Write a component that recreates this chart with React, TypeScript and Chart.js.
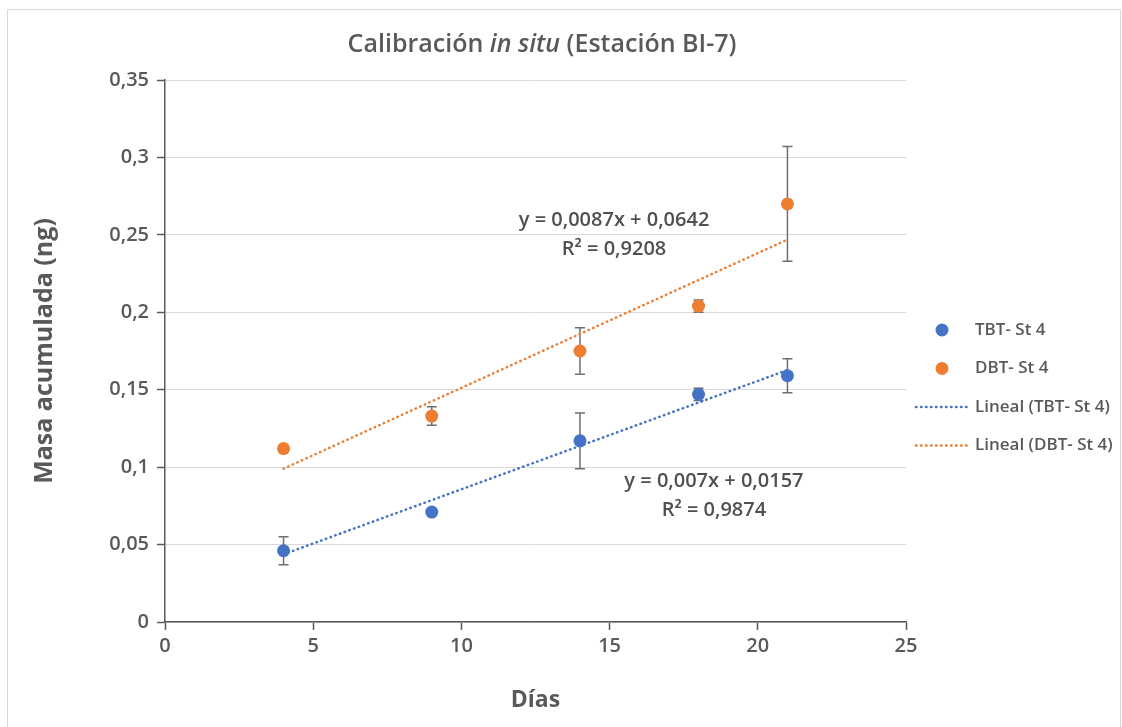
import React, { useEffect, useRef } from 'react';
import { Chart, registerables } from 'chart.js';

Chart.register(...registerables);

// ---- data ----
const days = [4, 9, 14, 18, 21];
const tbtValues = [0.046, 0.071, 0.117, 0.147, 0.159];
const tbtErrors = [0.009, 0.002, 0.018, 0.004, 0.011];
const dbtValues = [0.112, 0.133, 0.175, 0.204, 0.27];
const dbtErrors = [0.002, 0.006, 0.015, 0.004, 0.037];
const trendDays = [4, 21];
const tbtTrend = [0.0437, 0.1627];
const dbtTrend = [0.099, 0.2469];
const yTickValues = [0, 0.05, 0.1, 0.15, 0.2, 0.25, 0.3, 0.35];
const xTickValues = [0, 5, 10, 15, 20, 25];
const seriesLabels = ['TBT- St 4', 'DBT- St 4', 'Lineal (TBT- St 4)', 'Lineal (DBT- St 4)'];
const tbtEquation = ['y = 0,007x + 0,0157', 'R² = 0,9874'];
const dbtEquation = ['y = 0,0087x + 0,0642', 'R² = 0,9208'];
const titleParts = ['Calibración ', 'in situ', ' (Estación BI-7)'];
const titleItalic = [false, true, false];
const xTitle = 'Días';
const yTitle = 'Masa acumulada (ng)';

const FONT = '"Open Sans", sans-serif';
const TEXT = '#595959';
const BLUE = '#4472C4';
const ORANGE = '#ED7D31';

const fmt = (v: number) => String(v).replace('.', ',');

const framePlugin = {
  id: 'frame',
  beforeDraw(chart: any) {
    const ctx = chart.ctx;
    ctx.save();
    ctx.fillStyle = '#ffffff';
    ctx.fillRect(0, 0, chart.width, chart.height);
    ctx.strokeStyle = '#d9d9d9';
    ctx.lineWidth = 1;
    ctx.strokeRect(7.5, 9.5, 1113, 760);
    ctx.restore();
  },
};

const errorBarPlugin = {
  id: 'errorBars',
  beforeDatasetsDraw(chart: any) {
    const ctx = chart.ctx;
    const xs = chart.scales.x;
    const ys = chart.scales.y;
    ctx.save();
    ctx.strokeStyle = '#6f6f6f';
    ctx.lineWidth = 1.5;
    chart.data.datasets.forEach((ds: any) => {
      if (!ds.errors) return;
      ds.data.forEach((p: any, i: number) => {
        const e = ds.errors[i];
        const px = xs.getPixelForValue(p.x);
        const top = ys.getPixelForValue(p.y + e);
        const bot = ys.getPixelForValue(p.y - e);
        ctx.beginPath();
        ctx.moveTo(px, top);
        ctx.lineTo(px, bot);
        ctx.moveTo(px - 5, top);
        ctx.lineTo(px + 5, top);
        ctx.moveTo(px - 5, bot);
        ctx.lineTo(px + 5, bot);
        ctx.stroke();
      });
    });
    ctx.restore();
  },
};

const labelsPlugin = {
  id: 'labels',
  afterDraw(chart: any) {
    const ctx = chart.ctx;
    const xs = chart.scales.x;
    const ys = chart.scales.y;
    ctx.save();
    // title with italic part
    const size = 25;
    const fonts = titleItalic.map((it) => `${it ? 'italic ' : ''}600 ${size}px ${FONT}`);
    let total = 0;
    const widths = titleParts.map((t, i) => {
      ctx.font = fonts[i];
      const w = ctx.measureText(t).width;
      total += w;
      return w;
    });
    let x = 542 - total / 2;
    ctx.fillStyle = TEXT;
    ctx.textBaseline = 'middle';
    ctx.textAlign = 'left';
    titleParts.forEach((t, i) => {
      ctx.font = fonts[i];
      ctx.fillText(t, x, 45);
      x += widths[i];
    });

    // equations
    ctx.font = `600 20px ${FONT}`;
    ctx.fillStyle = '#505050';
    ctx.textAlign = 'center';
    const eqs = [
      { lines: dbtEquation, x: 15.15, y: 0.2596 },
      { lines: tbtEquation, x: 18.52, y: 0.091 },
    ];
    eqs.forEach((eq) => {
      const px = xs.getPixelForValue(eq.x);
      const py = ys.getPixelForValue(eq.y);
      eq.lines.forEach((l, i) => ctx.fillText(l, px, py + i * 29));
    });

    // legend
    ctx.font = `600 17px ${FONT}`;
    ctx.textAlign = 'left';
    chart.data.datasets.forEach((ds: any, i: number) => {
      const cy = 330 + i * 38.5;
      if (ds.showLine === false) {
        ctx.fillStyle = ds.backgroundColor;
        ctx.beginPath();
        ctx.arc(942, cy, 6.5, 0, Math.PI * 2);
        ctx.fill();
      } else {
        ctx.save();
        ctx.strokeStyle = ds.borderColor;
        ctx.lineWidth = ds.borderWidth;
        ctx.lineCap = ds.borderCapStyle;
        ctx.setLineDash(ds.borderDash);
        ctx.beginPath();
        ctx.moveTo(916, cy);
        ctx.lineTo(968, cy);
        ctx.stroke();
        ctx.restore();
      }
      ctx.fillStyle = TEXT;
      ctx.fillText(ds.label, 975, cy);
    });
    ctx.restore();
  },
};

export default function App() {
  const ref = useRef<HTMLCanvasElement | null>(null);
  useEffect(() => {
    if (!ref.current) return;
    const chart = new Chart(ref.current, {
      type: 'scatter',
      data: {
        datasets: [
          {
            label: seriesLabels[0],
            data: days.map((d, i) => ({ x: d, y: tbtValues[i] })),
            errors: tbtErrors,
            showLine: false,
            backgroundColor: BLUE,
            borderColor: BLUE,
            pointRadius: 6.5,
            pointBorderWidth: 0,
            order: 1,
          } as any,
          {
            label: seriesLabels[1],
            data: days.map((d, i) => ({ x: d, y: dbtValues[i] })),
            errors: dbtErrors,
            showLine: false,
            backgroundColor: ORANGE,
            borderColor: ORANGE,
            pointRadius: 6.5,
            pointBorderWidth: 0,
            order: 1,
          } as any,
          {
            label: seriesLabels[2],
            data: trendDays.map((d, i) => ({ x: d, y: tbtTrend[i] })),
            showLine: true,
            borderColor: BLUE,
            backgroundColor: BLUE,
            borderWidth: 2.5,
            borderDash: [0.5, 4.5],
            borderCapStyle: 'round',
            pointRadius: 0,
            order: 2,
          } as any,
          {
            label: seriesLabels[3],
            data: trendDays.map((d, i) => ({ x: d, y: dbtTrend[i] })),
            showLine: true,
            borderColor: ORANGE,
            backgroundColor: ORANGE,
            borderWidth: 2.5,
            borderDash: [0.5, 4.5],
            borderCapStyle: 'round',
            pointRadius: 0,
            order: 2,
          } as any,
        ],
      },
      options: {
        animation: false,
        responsive: false,
        layout: { padding: { left: 0, right: 216, top: 80, bottom: 0 } },
        plugins: {
          legend: { display: false },
          title: { display: false },
          tooltip: { enabled: false },
        },
        scales: {
          x: {
            type: 'linear',
            min: 0,
            max: 25,
            afterBuildTicks: (s: any) => {
              s.ticks = xTickValues.map((v) => ({ value: v }));
            },
            afterFit: (s: any) => {
              s.height = 105;
            },
            grid: {
              drawOnChartArea: false,
              drawTicks: true,
              tickLength: 8,
              tickColor: '#595959',
              tickWidth: 1.5,
            },
            border: { color: '#595959', width: 1.5 },
            ticks: {
              color: TEXT,
              padding: 4,
              font: { family: FONT, size: 20, weight: '600' as any },
              callback: (v: any) => fmt(v),
            },
            title: {
              display: true,
              text: xTitle,
              color: TEXT,
              font: { family: FONT, size: 23, weight: 'bold' as any },
              padding: { top: 0, bottom: 13 },
            },
          },
          y: {
            type: 'linear',
            min: 0,
            max: 0.35,
            afterBuildTicks: (s: any) => {
              s.ticks = yTickValues.map((v) => ({ value: v }));
            },
            afterFit: (s: any) => {
              s.width = 165;
            },
            grid: {
              color: '#d9d9d9',
              lineWidth: 1,
              drawTicks: true,
              tickLength: 8,
              tickColor: '#595959',
              tickWidth: 1.5,
            },
            border: { color: '#595959', width: 1.5 },
            ticks: {
              color: TEXT,
              padding: 8,
              font: { family: FONT, size: 20, weight: '600' as any },
              callback: (v: any) => fmt(v),
            },
            title: {
              display: true,
              text: yTitle,
              color: TEXT,
              font: { family: FONT, size: 25, weight: 'bold' as any },
              padding: { top: 30, bottom: 0 },
            },
          },
        },
      },
      plugins: [framePlugin, errorBarPlugin, labelsPlugin],
    });
    return () => chart.destroy();
  }, []);

  return (
    <div style={{ position: 'fixed', left: 0, top: 0, width: 1122, height: 727, background: '#fff' }}>
      <canvas ref={ref} width={1122} height={727} style={{ width: 1122, height: 727, display: 'block' }} />
    </div>
  );
}
